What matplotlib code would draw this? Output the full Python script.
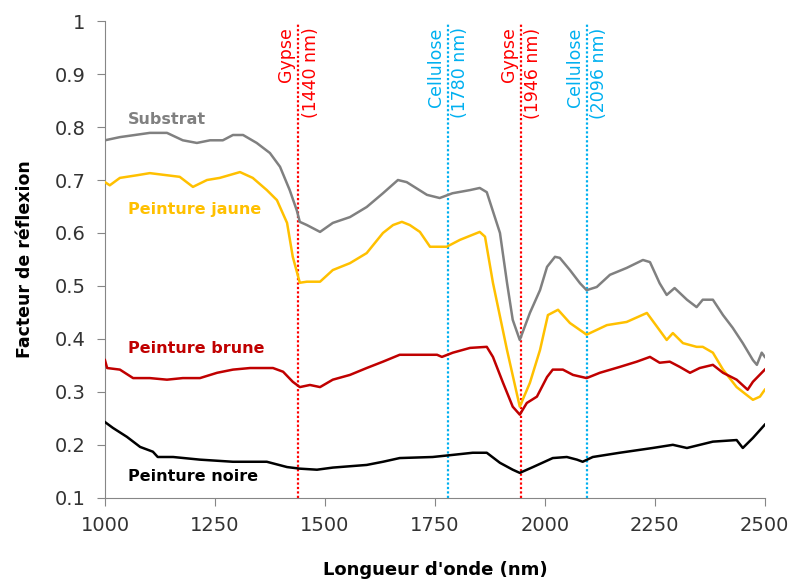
import matplotlib.pyplot as plt

# spectres de reflexion (longueur d'onde en nm, facteur de reflexion)
substrat_x = [1000, 1034, 1102, 1141, 1177, 1209, 1239, 1268, 1291, 1314, 1345, 1375,
              1398, 1420, 1436, 1443, 1459, 1489, 1518, 1557, 1595, 1632, 1666, 1686,
              1732, 1761, 1790, 1830, 1852, 1868, 1898, 1914, 1927, 1943, 1966, 1989,
              2005, 2023, 2034, 2057, 2080, 2095, 2118, 2148, 2186, 2223, 2239, 2261,
              2277, 2295, 2323, 2345, 2359, 2382, 2405, 2427, 2450, 2473, 2482, 2493, 2500]
substrat_y = [0.775, 0.781, 0.789, 0.789, 0.775, 0.770, 0.775, 0.775, 0.785, 0.785, 0.770, 0.751,
              0.725, 0.681, 0.643, 0.621, 0.615, 0.602, 0.619, 0.630, 0.649, 0.675, 0.700, 0.696,
              0.672, 0.666, 0.675, 0.681, 0.685, 0.677, 0.600, 0.506, 0.436, 0.398, 0.449, 0.492,
              0.536, 0.555, 0.553, 0.530, 0.505, 0.492, 0.498, 0.521, 0.534, 0.549, 0.545, 0.505,
              0.483, 0.496, 0.474, 0.460, 0.474, 0.474, 0.445, 0.421, 0.392, 0.360, 0.351, 0.374, 0.366]

jaune_x = [1000, 1011, 1034, 1073, 1102, 1141, 1170, 1200, 1232, 1261, 1307, 1336, 1368,
           1391, 1414, 1427, 1443, 1459, 1489, 1518, 1557, 1595, 1632, 1655, 1675, 1693,
           1716, 1739, 1777, 1807, 1852, 1864, 1882, 1914, 1943, 1966, 1989, 2007, 2030,
           2057, 2095, 2141, 2186, 2232, 2255, 2277, 2291, 2314, 2345, 2359, 2382, 2405,
           2436, 2459, 2473, 2489, 2500]
jaune_y = [0.696, 0.690, 0.704, 0.709, 0.713, 0.709, 0.706, 0.687, 0.700, 0.704, 0.715, 0.704, 0.681,
           0.662, 0.619, 0.555, 0.506, 0.508, 0.508, 0.530, 0.543, 0.562, 0.600, 0.615, 0.621, 0.615,
           0.602, 0.574, 0.574, 0.587, 0.602, 0.593, 0.506, 0.379, 0.272, 0.317, 0.379, 0.445, 0.455,
           0.430, 0.408, 0.426, 0.432, 0.449, 0.423, 0.398, 0.411, 0.392, 0.385, 0.385, 0.374, 0.342,
           0.309, 0.294, 0.285, 0.291, 0.304]

brune_x = [1000, 1005, 1034, 1064, 1102, 1141, 1177, 1216, 1255, 1291, 1330, 1382, 1405,
           1427, 1443, 1466, 1489, 1518, 1557, 1595, 1632, 1670, 1709, 1755, 1766, 1791,
           1830, 1868, 1882, 1905, 1927, 1943, 1959, 1982, 2005, 2018, 2041, 2064, 2095,
           2125, 2170, 2209, 2239, 2261, 2284, 2307, 2330, 2352, 2382, 2405, 2436, 2461,
           2473, 2500]
brune_y = [0.360, 0.345, 0.342, 0.326, 0.326, 0.323, 0.326, 0.326, 0.336, 0.342, 0.345, 0.345, 0.338,
           0.319, 0.309, 0.313, 0.309, 0.323, 0.332, 0.345, 0.357, 0.370, 0.370, 0.370, 0.366, 0.374,
           0.383, 0.385, 0.366, 0.317, 0.272, 0.257, 0.279, 0.291, 0.328, 0.342, 0.342, 0.332, 0.326,
           0.336, 0.347, 0.357, 0.366, 0.355, 0.357, 0.347, 0.336, 0.345, 0.351, 0.336, 0.323, 0.304,
           0.319, 0.342]

noire_x = [1000, 1018, 1050, 1080, 1109, 1120, 1155, 1216, 1291, 1368, 1414, 1443, 1482,
           1518, 1595, 1632, 1670, 1745, 1791, 1836, 1868, 1898, 1927, 1943, 1973, 2018,
           2050, 2073, 2086, 2109, 2170, 2245, 2291, 2323, 2382, 2436, 2450, 2473, 2500]
noire_y = [0.243, 0.232, 0.215, 0.196, 0.187, 0.177, 0.177, 0.172, 0.168, 0.168, 0.158, 0.155, 0.153,
           0.157, 0.162, 0.168, 0.175, 0.177, 0.181, 0.185, 0.185, 0.166, 0.153, 0.147, 0.158, 0.175,
           0.177, 0.172, 0.168, 0.177, 0.185, 0.194, 0.200, 0.194, 0.206, 0.209, 0.194, 0.213, 0.238]

# bandes d'absorption
bandes_nm = [1440, 1780, 1946, 2096]
bandes_nom = ["Gypse", "Cellulose", "Gypse", "Cellulose"]
bandes_couleur = ["#FF0000", "#00B0F0", "#FF0000", "#00B0F0"]

x_ticks = [1000, 1250, 1500, 1750, 2000, 2250, 2500]
y_ticks = [0.1, 0.2, 0.3, 0.4, 0.5, 0.6, 0.7, 0.8, 0.9, 1]

fig = plt.figure(figsize=(7.95, 5.87), dpi=100)
ax = fig.add_axes([0.132, 0.152, 0.830, 0.812])

series = [
    (substrat_x, substrat_y, "#808080", "Substrat", 0.815),
    (jaune_x, jaune_y, "#FFC000", "Peinture jaune", 0.645),
    (brune_x, brune_y, "#C00000", "Peinture brune", 0.381),
    (noire_x, noire_y, "#000000", "Peinture noire", 0.140),
]
for xs, ys, col, nom, ylab in series:
    ax.plot(xs, ys, color=col, lw=1.8, zorder=3)
    ax.text(1052, ylab, nom, color=col, fontsize=11.5, fontweight="bold",
            ha="left", va="center")

for nm, nom, col in zip(bandes_nm, bandes_nom, bandes_couleur):
    ax.vlines(nm, 0.1, 0.995, colors=col, linestyles=(0, (1, 1)), lw=1.6, zorder=2)
    ax.text(nm, 0.988, f"{nom}\n({nm} nm)", color=col, fontsize=12.5, rotation=90,
            ha="center", va="top", multialignment="right", linespacing=1.45)

ax.set_xlim(1000, 2500)
ax.set_ylim(0.1, 1)
ax.set_xticks(x_ticks)
ax.set_yticks(y_ticks)
ax.set_yticklabels([f"{v:g}" for v in y_ticks])

for s in ["top", "right"]:
    ax.spines[s].set_visible(False)
for s in ["left", "bottom"]:
    ax.spines[s].set_color("#868686")
ax.tick_params(colors="#868686", labelcolor="#333333", labelsize=14, length=6, direction="out")
ax.tick_params(axis="x", pad=7)
ax.tick_params(axis="y", pad=8)

ax.set_xlabel("Longueur d'onde (nm)", fontsize=13, fontweight="bold", labelpad=19)
ax.set_ylabel("Facteur de réflexion", fontsize=12.5, fontweight="bold", labelpad=15)

fig.savefig("out.png", dpi=100)
